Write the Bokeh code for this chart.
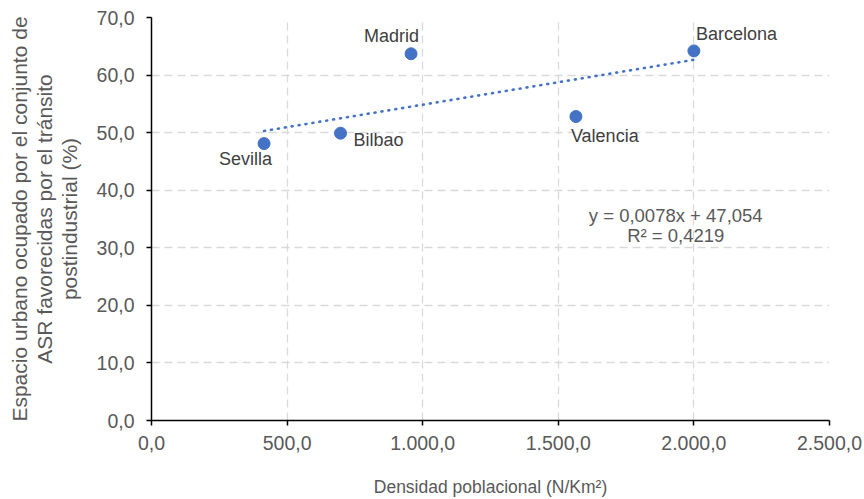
from bokeh.plotting import figure
from bokeh.models import Range1d, FixedTicker, Label, ColumnDataSource
from bokeh.embed import file_html
from bokeh.resources import INLINE

# ---- data ----
cities = ["Sevilla", "Bilbao", "Madrid", "Valencia", "Barcelona"]
densidad = [415, 697, 957, 1565, 2000]          # N/Km2
espacio = [48.1, 49.9, 63.7, 52.8, 64.2]        # %

x_ticks = [0, 500, 1000, 1500, 2000, 2500]
x_tick_labels = ["0,0", "500,0", "1.000,0", "1.500,0", "2.000,0", "2.500,0"]
y_ticks = [0, 10, 20, 30, 40, 50, 60, 70]
y_tick_labels = ["0,0", "10,0", "20,0", "30,0", "40,0", "50,0", "60,0", "70,0"]

trend_slope = 0.0078
trend_intercept = 47.054
trend_r2 = 0.4219

x_title = "Densidad poblacional (N/Km²)"
y_title = "Espacio urbano ocupado por el conjunto de\nASR favorecidas por el tránsito\npostindustrial (%)"

# ---- styles ----
FONT = "Liberation Sans"
BLUE = "#4472C4"
GREY = "#595959"
DARK = "#404040"

# label placement: (align, x_offset, y_offset)
label_pos = {
    "Madrid": ("right", 8, 18),
    "Barcelona": ("left", 2, 17),
    "Valencia": ("left", -5, -19),
    "Bilbao": ("left", 13, -7),
    "Sevilla": ("right", 8, -15),
}

p = figure(width=864, height=499, output_backend="svg", toolbar_location=None,
           x_range=Range1d(0, 2500), y_range=Range1d(0, 70),
           min_border_left=151, min_border_right=35, min_border_top=17, min_border_bottom=78)
p.outline_line_color = None
p.background_fill_color = "white"

for ax, ticks, labels in ((p.xaxis[0], x_ticks, x_tick_labels), (p.yaxis[0], y_ticks, y_tick_labels)):
    ax.ticker = FixedTicker(ticks=ticks)
    ax.major_label_overrides = {t: l for t, l in zip(ticks, labels)}
    ax.minor_tick_line_color = None
    ax.major_tick_in = 0
    ax.major_tick_out = 5
    ax.axis_line_color = "black"
    ax.axis_line_width = 1.5
    ax.major_tick_line_color = "black"
    ax.major_tick_line_width = 1.5
    ax.major_label_text_font = FONT
    ax.major_label_text_font_size = "19.5px"
    ax.major_label_text_color = GREY
    ax.axis_label_text_font = FONT
    ax.axis_label_text_font_style = "normal"
    ax.axis_label_text_color = GREY

p.xaxis.axis_label = x_title
p.yaxis.axis_label = y_title
p.xaxis.axis_label_text_font_size = "17.5px"
p.yaxis.axis_label_text_font_size = "21px"
p.xaxis.major_label_standoff = 10
p.xaxis.axis_label_standoff = 24
p.yaxis.major_label_standoff = 12
p.yaxis.axis_label_standoff = 13
p.yaxis.axis_label_text_line_height = 1.08

for g in (p.xgrid[0], p.ygrid[0]):
    g.grid_line_color = "#d9d9d9"
    g.grid_line_dash = "8 5"
    g.grid_line_width = 1.3

# trendline
tx = [min(densidad), max(densidad)]
ty = [trend_slope * v + trend_intercept for v in tx]
p.line(tx, ty, line_color=BLUE, line_width=2.6, line_dash="1 6", line_cap="round")

src = ColumnDataSource(dict(x=densidad, y=espacio, name=cities))
p.scatter("x", "y", source=src, size=12, fill_color=BLUE, line_color=BLUE)

for c, xv, yv in zip(cities, densidad, espacio):
    align, xo, yo = label_pos[c]
    p.add_layout(Label(x=xv, y=yv, text=c, x_offset=xo, y_offset=yo,
                       text_align=align, text_baseline="middle",
                       text_font=FONT, text_font_size="18px", text_color=DARK))

def fmt(v, nd):
    return f"{v:.{nd}f}".replace(".", ",")

eq1 = f"y = {fmt(trend_slope, 4)}x + {fmt(trend_intercept, 3)}"
eq2 = f"R² = {fmt(trend_r2, 4)}"
p.add_layout(Label(x=1933, y=35.6, text=eq1, text_align="center", text_baseline="middle",
                   text_font=FONT, text_font_size="18.5px", text_color=GREY))
p.add_layout(Label(x=1933, y=32.2, text=eq2, text_align="center", text_baseline="middle",
                   text_font=FONT, text_font_size="18.5px", text_color=GREY))

open("out.html", "w").write(file_html(p, INLINE))
